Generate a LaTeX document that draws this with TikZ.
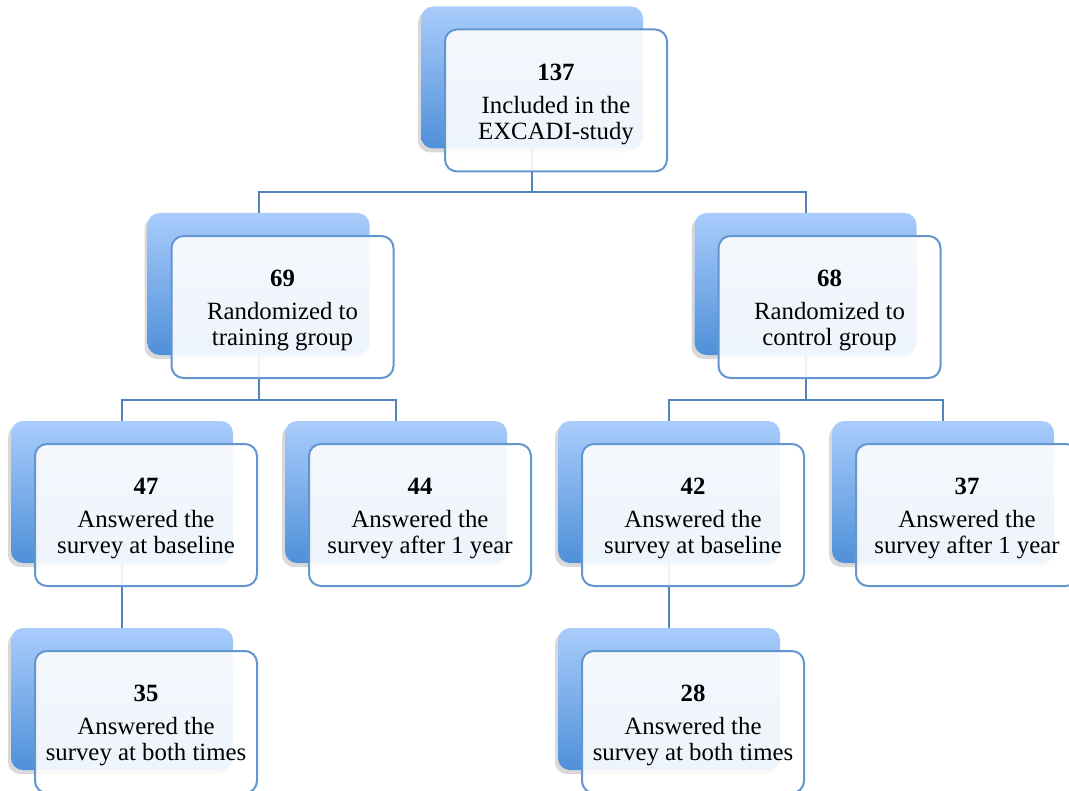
\documentclass[tikz,border=0pt]{standalone}
\usepackage{fontspec}
\setmainfont{Liberation Serif}
\usetikzlibrary{shadows}

\definecolor{backtop}{HTML}{A9CCFB}
\definecolor{backbot}{HTML}{4F90D9}
\definecolor{frameblue}{HTML}{6496CE}
\definecolor{linkblue}{HTML}{5482BC}

\begin{document}
\begin{tikzpicture}[x=0.5pt,y=-0.5pt,
  back/.style={rectangle,rounded corners=6pt,minimum width=111pt,minimum height=71pt,
    top color=backtop,bottom color=backbot,draw=none,
    drop shadow={shadow xshift=-1.5pt,shadow yshift=-2pt,opacity=.3}},
  front/.style={rectangle,rounded corners=6pt,minimum width=111pt,minimum height=71pt,
    draw=frameblue,line width=1pt,fill=white,fill opacity=.9,text opacity=1,
    align=center,inner sep=0pt,font=\fontsize{12.4}{13}\selectfont},
  link/.style={draw=linkblue,line width=1pt}]

\useasboundingbox (0,0) rectangle (1069,791);

% back boxes
\node[back] (top-b) at (532,77.5) {};
\node[back] (train-b) at (258.5,284) {};
\node[back] (ctrl-b) at (805.5,284) {};
\node[back] (tb-b) at (122,492) {};
\node[back] (ty-b) at (396,492) {};
\node[back] (cb-b) at (669,492) {};
\node[back] (cy-b) at (943,492) {};
\node[back] (tboth-b) at (122,699) {};
\node[back] (cboth-b) at (669,699) {};

% connectors
\draw[link] (top-b.south) -- (top-b.south |- 0,192) -| (train-b.north);
\draw[link] (top-b.south) -- (top-b.south |- 0,192) -| (ctrl-b.north);
\draw[link] (train-b.south) -- (train-b.south |- 0,400) -| (tb-b.north);
\draw[link] (train-b.south) -- (train-b.south |- 0,400) -| (ty-b.north);
\draw[link] (ctrl-b.south) -- (ctrl-b.south |- 0,400) -| (cb-b.north);
\draw[link] (ctrl-b.south) -- (ctrl-b.south |- 0,400) -| (cy-b.north);
\draw[link] (tb-b.south) -- (tboth-b.north);
\draw[link] (cb-b.south) -- (cboth-b.north);

% front boxes
\node[front] (top) at ([shift={(24,23)}]top-b) {\rule{0pt}{12pt}\textbf{137}\\[3.5pt]Included in the\\EXCADI-study};
\node[front] (train) at ([shift={(24,23)}]train-b) {\rule{0pt}{12pt}\textbf{69}\\[3.5pt]Randomized to\\training group};
\node[front] (ctrl) at ([shift={(24,23)}]ctrl-b) {\rule{0pt}{12pt}\textbf{68}\\[3.5pt]Randomized to\\control group};
\node[front] (tb) at ([shift={(24,23)}]tb-b) {\rule{0pt}{12pt}\textbf{47}\\[3.5pt]Answered the\\survey at baseline};
\node[front] (ty) at ([shift={(24,23)}]ty-b) {\rule{0pt}{12pt}\textbf{44}\\[3.5pt]Answered the\\survey after 1 year};
\node[front] (cb) at ([shift={(24,23)}]cb-b) {\rule{0pt}{12pt}\textbf{42}\\[3.5pt]Answered the\\survey at baseline};
\node[front] (cy) at ([shift={(24,23)}]cy-b) {\rule{0pt}{12pt}\textbf{37}\\[3.5pt]Answered the\\survey after 1 year};
\node[front] (tboth) at ([shift={(24,23)}]tboth-b) {\rule{0pt}{12pt}\textbf{35}\\[3.5pt]Answered the\\survey at both times};
\node[front] (cboth) at ([shift={(24,23)}]cboth-b) {\rule{0pt}{12pt}\textbf{28}\\[3.5pt]Answered the\\survey at both times};

\end{tikzpicture}
\end{document}
